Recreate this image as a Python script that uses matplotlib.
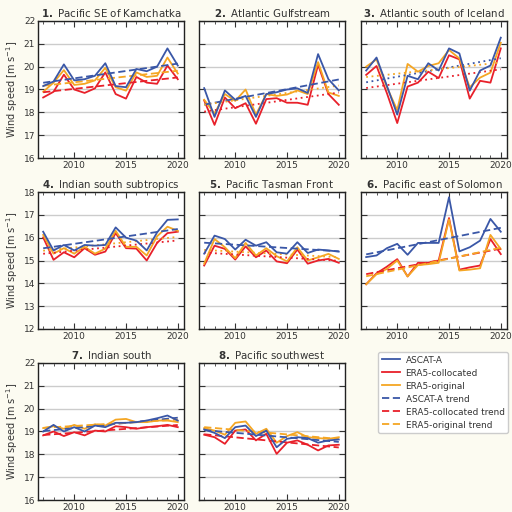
import numpy as np
import matplotlib
matplotlib.use("Agg")
import matplotlib.pyplot as plt
from matplotlib.ticker import MultipleLocator
from matplotlib.lines import Line2D

years = list(range(2007, 2021))

titles = ["Pacific SE of Kamchatka", "Atlantic Gulfstream", "Atlantic south of Iceland",
          "Indian south subtropics", "Pacific Tasman Front", "Pacific east of Solomon",
          "Indian south", "Pacific southwest"]

ascat_1 = [19.15, 19.35, 20.1, 19.4, 19.45, 19.6, 20.15, 19.15, 19.1, 19.9, 19.8, 20.0, 20.8, 20.05]
orig_1 = [18.9, 19.3, 19.85, 19.2, 19.25, 19.4, 19.95, 19.1, 18.95, 19.75, 19.55, 19.6, 20.4, 19.7]
coll_1 = [18.65, 18.9, 19.65, 19.0, 18.85, 19.05, 19.75, 18.8, 18.6, 19.55, 19.3, 19.25, 20.05, 19.45]

ascat_2 = [19.06, 17.8, 18.96, 18.55, 18.72, 17.8, 18.8, 18.88, 19.0, 19.05, 18.85, 20.55, 19.45, 18.96]
orig_2 = [18.55, 17.95, 18.8, 18.5, 19.0, 17.9, 18.8, 18.72, 18.78, 18.96, 18.8, 20.2, 18.87, 18.72]
coll_2 = [18.52, 17.45, 18.65, 18.18, 18.4, 17.5, 18.58, 18.62, 18.42, 18.42, 18.33, 20.08, 18.8, 18.33]

ascat_3 = [19.83, 20.4, 19.16, 17.9, 19.6, 19.45, 20.15, 19.83, 20.8, 20.58, 18.95, 19.83, 20.05, 21.27]
orig_3 = [20.0, 20.32, 19.1, 18.1, 20.12, 19.78, 20.03, 20.15, 20.73, 20.36, 19.1, 19.52, 19.74, 21.05]
coll_3 = [19.64, 20.03, 18.84, 17.53, 19.13, 19.3, 19.78, 19.5, 20.5, 20.32, 18.6, 19.38, 19.3, 20.8]

ascat_4 = [16.26, 15.44, 15.68, 15.44, 15.68, 15.65, 15.68, 16.45, 16.0, 15.87, 15.44, 16.23, 16.78, 16.8]
orig_4 = [16.12, 15.3, 15.54, 15.3, 15.6, 15.3, 15.52, 16.3, 15.6, 15.6, 15.22, 16.06, 16.48, 16.3]
coll_4 = [16.01, 15.03, 15.36, 15.14, 15.54, 15.25, 15.39, 16.2, 15.54, 15.52, 15.0, 15.77, 16.2, 16.26]

ascat_5 = [15.3, 16.09, 15.94, 15.48, 15.91, 15.65, 15.8, 15.36, 15.3, 15.8, 15.33, 15.48, 15.44, 15.39]
orig_5 = [14.86, 15.94, 15.58, 15.1, 15.77, 15.22, 15.54, 15.19, 14.96, 15.58, 15.0, 15.14, 15.29, 15.07]
coll_5 = [14.78, 15.65, 15.51, 15.04, 15.62, 15.14, 15.44, 14.96, 14.88, 15.48, 14.86, 15.0, 15.07, 14.9]

ascat_6 = [15.15, 15.22, 15.54, 15.73, 15.25, 15.77, 15.77, 15.77, 17.77, 15.4, 15.58, 15.87, 16.82, 16.26]
orig_6 = [13.96, 14.4, 14.63, 15.0, 14.3, 14.8, 14.84, 14.9, 16.8, 14.56, 14.6, 14.66, 16.12, 15.5]
coll_6 = [13.96, 14.44, 14.73, 15.06, 14.3, 14.9, 14.9, 15.0, 16.86, 14.6, 14.7, 14.78, 15.94, 15.28]

ascat_7 = [19.0, 19.29, 19.0, 19.19, 19.0, 19.26, 19.19, 19.38, 19.38, 19.41, 19.48, 19.58, 19.7, 19.48]
orig_7 = [19.15, 19.23, 19.12, 19.29, 19.12, 19.32, 19.26, 19.52, 19.55, 19.41, 19.41, 19.48, 19.48, 19.41]
coll_7 = [18.83, 19.0, 18.8, 18.97, 18.83, 19.04, 19.0, 19.23, 19.19, 19.12, 19.19, 19.23, 19.29, 19.19]

ascat_8 = [19.09, 18.94, 18.71, 19.19, 19.26, 18.8, 19.04, 18.31, 18.68, 18.75, 18.71, 18.51, 18.61, 18.65]
orig_8 = [19.15, 19.04, 18.86, 19.38, 19.44, 18.9, 19.12, 18.51, 18.8, 18.97, 18.75, 18.71, 18.68, 18.75]
coll_8 = [18.86, 18.75, 18.46, 19.04, 19.09, 18.61, 18.9, 18.02, 18.51, 18.61, 18.42, 18.17, 18.39, 18.42]

ascat = [ascat_1, ascat_2, ascat_3, ascat_4, ascat_5, ascat_6, ascat_7, ascat_8]
orig = [orig_1, orig_2, orig_3, orig_4, orig_5, orig_6, orig_7, orig_8]
coll = [coll_1, coll_2, coll_3, coll_4, coll_5, coll_6, coll_7, coll_8]

# trend significance (dashed) or not (dotted): (ascat, collocated, original)
significant = [
    (True, True, True), (True, False, False), (False, False, False),
    (True, False, False), (True, False, False), (True, True, True),
    (True, True, True), (True, True, True)]

ylims = [(16, 22), (16, 22), (16, 22), (12, 18), (12, 18), (12, 18), (16, 22), (16, 22)]

c_ascat = "#3a57a7"
c_coll = "#e8202a"
c_orig = "#f5a623"
bg = "#fcfbf1"
txt = "#333333"

plt.rcParams['font.family'] = ['DejaVu Sans']
plt.rcParams['font.size'] = 6.5
plt.rcParams['text.color'] = txt
plt.rcParams['axes.labelcolor'] = txt
plt.rcParams['xtick.color'] = txt
plt.rcParams['ytick.color'] = txt

fig = plt.figure(figsize=(5.12, 5.12), dpi=100, facecolor=bg)

lefts = [38 / 512, 199 / 512, 361 / 512]
bottoms = [1 - 158 / 512, 1 - 329 / 512, 1 - 500 / 512]
w = 146 / 512
h = 137 / 512

dash = (0, (4, 2))
dot = (0, (1, 2))

yrs = np.array(years)
for i in range(8):
    r, c = divmod(i, 3)
    ax = fig.add_axes([lefts[c], bottoms[r], w, h])
    ax.set_facecolor("white")
    for s in ax.spines.values():
        s.set_color("#222222")
        s.set_linewidth(1.0)
    ax.set_xlim(2006.5, 2020.6)
    ax.set_ylim(*ylims[i])
    ax.yaxis.set_major_locator(MultipleLocator(1))
    ax.xaxis.set_major_locator(MultipleLocator(5))
    ax.xaxis.set_minor_locator(MultipleLocator(1))
    ax.tick_params(direction="in", top=True, right=True, which="both", labelsize=6.5, pad=2)
    ax.tick_params(which="major", length=4)
    ax.tick_params(which="minor", length=2)
    ax.grid(axis="y", color="#cccccc", linewidth=1.0)
    ax.set_axisbelow(True)
    if c != 0:
        ax.set_yticklabels([])
    else:
        ax.set_ylabel("Wind speed [m s$^{-1}$]", fontsize=7, labelpad=3)
    ax.set_title(r"$\bf{%d.}$ %s" % (i + 1, titles[i]), fontsize=7.4, pad=3)

    ax.plot(yrs, coll[i], color=c_coll, lw=1.3)
    ax.plot(yrs, orig[i], color=c_orig, lw=1.3)
    for data, col, sig in zip([ascat[i], coll[i], orig[i]], [c_ascat, c_coll, c_orig], significant[i]):
        p = np.polyfit(yrs, data, 1)
        ax.plot(yrs, np.polyval(p, yrs), color=col, lw=1.3, linestyle=dash if sig else dot)
    ax.plot(yrs, ascat[i], color=c_ascat, lw=1.3)

handles = [
    Line2D([], [], color=c_ascat, lw=1.3),
    Line2D([], [], color=c_coll, lw=1.3),
    Line2D([], [], color=c_orig, lw=1.3),
    Line2D([], [], color=c_ascat, lw=1.3, linestyle=dash),
    Line2D([], [], color=c_coll, lw=1.3, linestyle=dash),
    Line2D([], [], color=c_orig, lw=1.3, linestyle=dash),
]
labels = ["ASCAT-A", "ERA5-collocated", "ERA5-original",
          "ASCAT-A trend", "ERA5-collocated trend", "ERA5-original trend"]
fig.legend(handles, labels, loc="upper left", bbox_to_anchor=(378 / 512, 1 - 352 / 512),
           borderaxespad=0, fontsize=6.4, frameon=True, fancybox=True,
           labelspacing=0.45, handlelength=2.1, handletextpad=0.6,
           edgecolor="#cccccc", facecolor="white", framealpha=1)

fig.savefig("out.png", dpi=100, facecolor=bg)
